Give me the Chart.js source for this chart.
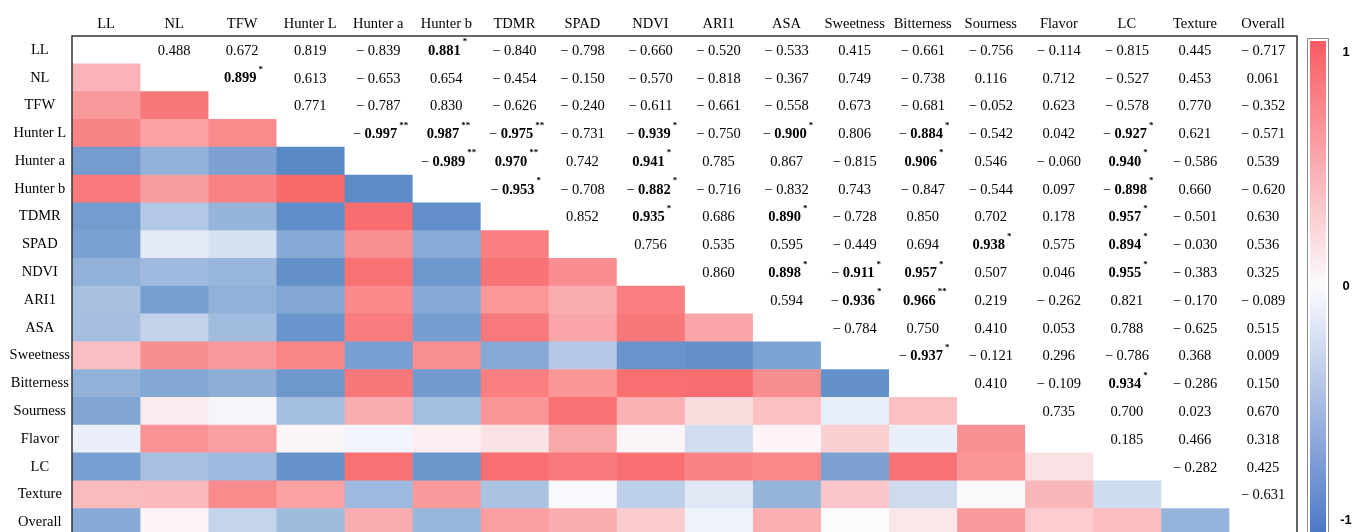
<!DOCTYPE html>
<html><head><meta charset="utf-8">
<script src="https://cdn.jsdelivr.net/npm/chart.js@4.4.1/dist/chart.umd.min.js"></script>
<style>
html,body{margin:0;padding:0;background:#fff;overflow:hidden}
#wrap{width:1354px;height:532px;overflow:hidden;position:relative}
#box{width:1354px;height:547px;position:absolute;left:0;top:0}
</style></head><body>
<div id="wrap"><div id="box"><canvas id="c"></canvas></div></div>
<script>
const variables = ['LL','NL','TFW','Hunter L','Hunter a','Hunter b','TDMR','SPAD','NDVI','ARI1','ASA','Sweetness','Bitterness','Sourness','Flavor','LC','Texture','Overall'];

// upper-triangle correlations, each row lists the values to the right of the diagonal
const rowLL        = [0.488, 0.672, 0.819, -0.839, 0.881, -0.840, -0.798, -0.660, -0.520, -0.533, 0.415, -0.661, -0.756, -0.114, -0.815, 0.445, -0.717];
const rowNL        = [0.899, 0.613, -0.653, 0.654, -0.454, -0.150, -0.570, -0.818, -0.367, 0.749, -0.738, 0.116, 0.712, -0.527, 0.453, 0.061];
const rowTFW       = [0.771, -0.787, 0.830, -0.626, -0.240, -0.611, -0.661, -0.558, 0.673, -0.681, -0.052, 0.623, -0.578, 0.770, -0.352];
const rowHunterL   = [-0.997, 0.987, -0.975, -0.731, -0.939, -0.750, -0.900, 0.806, -0.884, -0.542, 0.042, -0.927, 0.621, -0.571];
const rowHunterA   = [-0.989, 0.970, 0.742, 0.941, 0.785, 0.867, -0.815, 0.906, 0.546, -0.060, 0.940, -0.586, 0.539];
const rowHunterB   = [-0.953, -0.708, -0.882, -0.716, -0.832, 0.743, -0.847, -0.544, 0.097, -0.898, 0.660, -0.620];
const rowTDMR      = [0.852, 0.935, 0.686, 0.890, -0.728, 0.850, 0.702, 0.178, 0.957, -0.501, 0.630];
const rowSPAD      = [0.756, 0.535, 0.595, -0.449, 0.694, 0.938, 0.575, 0.894, -0.030, 0.536];
const rowNDVI      = [0.860, 0.898, -0.911, 0.957, 0.507, 0.046, 0.955, -0.383, 0.325];
const rowARI1      = [0.594, -0.936, 0.966, 0.219, -0.262, 0.821, -0.170, -0.089];
const rowASA       = [-0.784, 0.750, 0.410, 0.053, 0.788, -0.625, 0.515];
const rowSweetness = [-0.937, -0.121, 0.296, -0.786, 0.368, 0.009];
const rowBitterness= [0.410, -0.109, 0.934, -0.286, 0.150];
const rowSourness  = [0.735, 0.700, 0.023, 0.670];
const rowFlavor    = [0.185, 0.466, 0.318];
const rowLC        = [-0.282, 0.425];
const rowTexture   = [-0.631];

const significance = [
  ['LL','Hunter b','*'], ['NL','TFW','*'],
  ['Hunter L','Hunter a','**'], ['Hunter L','Hunter b','**'], ['Hunter L','TDMR','**'], ['Hunter L','NDVI','*'],
  ['Hunter L','ASA','*'], ['Hunter L','Bitterness','*'], ['Hunter L','LC','*'],
  ['Hunter a','Hunter b','**'], ['Hunter a','TDMR','**'], ['Hunter a','NDVI','*'], ['Hunter a','Bitterness','*'], ['Hunter a','LC','*'],
  ['Hunter b','TDMR','*'], ['Hunter b','NDVI','*'], ['Hunter b','LC','*'],
  ['TDMR','NDVI','*'], ['TDMR','ASA','*'], ['TDMR','LC','*'],
  ['SPAD','Sourness','*'], ['SPAD','LC','*'],
  ['NDVI','ASA','*'], ['NDVI','Sweetness','*'], ['NDVI','Bitterness','*'], ['NDVI','LC','*'],
  ['ARI1','Sweetness','*'], ['ARI1','Bitterness','**'],
  ['Sweetness','Bitterness','*'], ['Bitterness','LC','*']
];
const colorbarTicks = ['1', '0', '-1'];

const upperRows = [rowLL,rowNL,rowTFW,rowHunterL,rowHunterA,rowHunterB,rowTDMR,rowSPAD,rowNDVI,rowARI1,rowASA,rowSweetness,rowBitterness,rowSourness,rowFlavor,rowLC,rowTexture];
const N = variables.length;
const M = variables.map(() => new Array(N).fill(null));
upperRows.forEach((row, i) => row.forEach((v, k) => { const j = i + 1 + k; M[i][j] = v; M[j][i] = v; }));
const sigMap = {};
significance.forEach(([a, b, s]) => { sigMap[variables.indexOf(a) + '_' + variables.indexOf(b)] = s; });

const RED = [248,105,107], WHITE = [252,252,255], BLUE = [90,138,198];
function colorFor(v) {
  const t = Math.min(1, Math.abs(v));
  const end = v >= 0 ? RED : BLUE;
  const c = WHITE.map((w, k) => Math.round(w + (end[k] - w) * t));
  return `rgb(${c[0]},${c[1]},${c[2]})`;
}

const datasets = variables.map((colName, c) => ({
  label: colName,
  data: variables.map((rowName, r) => r > c ? [c, c + 1] : null),
  backgroundColor: variables.map((rowName, r) => r > c ? colorFor(M[r][c]) : 'rgba(0,0,0,0)'),
  borderWidth: 0,
  grouped: false,
  barPercentage: 1,
  categoryPercentage: 1
}));

const SERIF = 'Liberation Serif, Times New Roman, serif';
const FS = 14.5;

const textPlugin = {
  id: 'cellText',
  afterDatasetsDraw(chart) {
    const {ctx} = chart;
    const xs = chart.scales.x, ys = chart.scales.y;
    ctx.save();
    ctx.fillStyle = '#000';
    ctx.textBaseline = 'middle';
    ctx.textAlign = 'left';
    for (let i = 0; i < N; i++) {
      for (let j = i + 1; j < N; j++) {
        const v = M[i][j];
        const sig = sigMap[i + '_' + j];
        const cx = xs.getPixelForValue(j + 0.5);
        const cy = ys.getPixelForValue(i);
        const prefix = v < 0 ? '\u2212 ' : '';
        const num = Math.abs(v).toFixed(3);
        const regFont = `${FS}px ${SERIF}`;
        const boldFont = `bold ${FS}px ${SERIF}`;
        const starFont = `bold 9px ${SERIF}`;
        ctx.font = regFont;
        const wp = ctx.measureText(prefix).width;
        ctx.font = sig ? boldFont : regFont;
        const wn = ctx.measureText(num).width;
        let ws = 0;
        if (sig) { ctx.font = starFont; ws = ctx.measureText(sig).width + 2; }
        let x = cx - (wp + wn + ws * 0.6) / 2;
        ctx.font = regFont;
        ctx.fillText(prefix, x, cy + 1);
        x += wp;
        ctx.font = sig ? boldFont : regFont;
        ctx.fillText(num, x, cy + 1);
        x += wn;
        if (sig) { ctx.font = starFont; ctx.fillText(sig, x + 2, cy - 8); }
      }
    }
    ctx.restore();
  },
  afterDraw(chart) {
    const {ctx, chartArea: a} = chart;
    ctx.save();
    ctx.strokeStyle = '#333';
    ctx.lineWidth = 1.5;
    ctx.beginPath();
    ctx.moveTo(a.left, chart.height);
    ctx.lineTo(a.left, a.top);
    ctx.lineTo(a.right, a.top);
    ctx.lineTo(a.right, chart.height);
    ctx.stroke();
    // colour bar
    const bx = a.right + 10, bw = 21, by = a.top + 2, bh = 496;
    ctx.strokeStyle = '#8a8a8a';
    ctx.lineWidth = 1;
    ctx.strokeRect(bx + 0.5, by + 0.5, bw, bh);
    const g = ctx.createLinearGradient(0, by + 2, 0, by + bh - 2);
    g.addColorStop(0, '#f95b61');
    g.addColorStop(0.5, '#fbfbfe');
    g.addColorStop(1, '#4d78c6');
    ctx.fillStyle = g;
    ctx.fillRect(bx + 3, by + 3, bw - 5, bh - 5);
    ctx.fillStyle = '#000';
    ctx.font = 'bold 13px Liberation Sans, Arial, sans-serif';
    ctx.textAlign = 'center';
    ctx.textBaseline = 'middle';
    const ys = [by + 14, by + bh / 2, by + bh - 14];
    colorbarTicks.forEach((t, k) => ctx.fillText(t, bx + 39, ys[k]));
    ctx.restore();
  }
};

new Chart(document.getElementById('c'), {
  type: 'bar',
  data: { labels: variables, datasets },
  options: {
    indexAxis: 'y',
    responsive: true,
    maintainAspectRatio: false,
    animation: false,
    layout: { padding: { left: 0, top: 0, right: 57, bottom: 3.6 } },
    plugins: { legend: { display: false }, tooltip: { enabled: false } },
    scales: {
      x: { type: 'linear', min: 0, max: N, display: false },
      x2: {
        type: 'category', labels: variables, position: 'top', offset: true,
        grid: { display: false, drawTicks: false }, border: { display: false },
        ticks: { font: { family: SERIF, size: FS }, color: '#000', padding: 3, maxRotation: 0, autoSkip: false },
        afterFit: s => { s.height = 36; }
      },
      y: {
        type: 'category', offset: true,
        grid: { display: false, drawTicks: false }, border: { display: false },
        ticks: { crossAlign: 'center', padding: 2, font: { family: SERIF, size: FS }, color: '#000', autoSkip: false },
        afterFit: s => { s.width = 72; }
      }
    }
  },
  plugins: [textPlugin]
});
</script>
</body></html>
